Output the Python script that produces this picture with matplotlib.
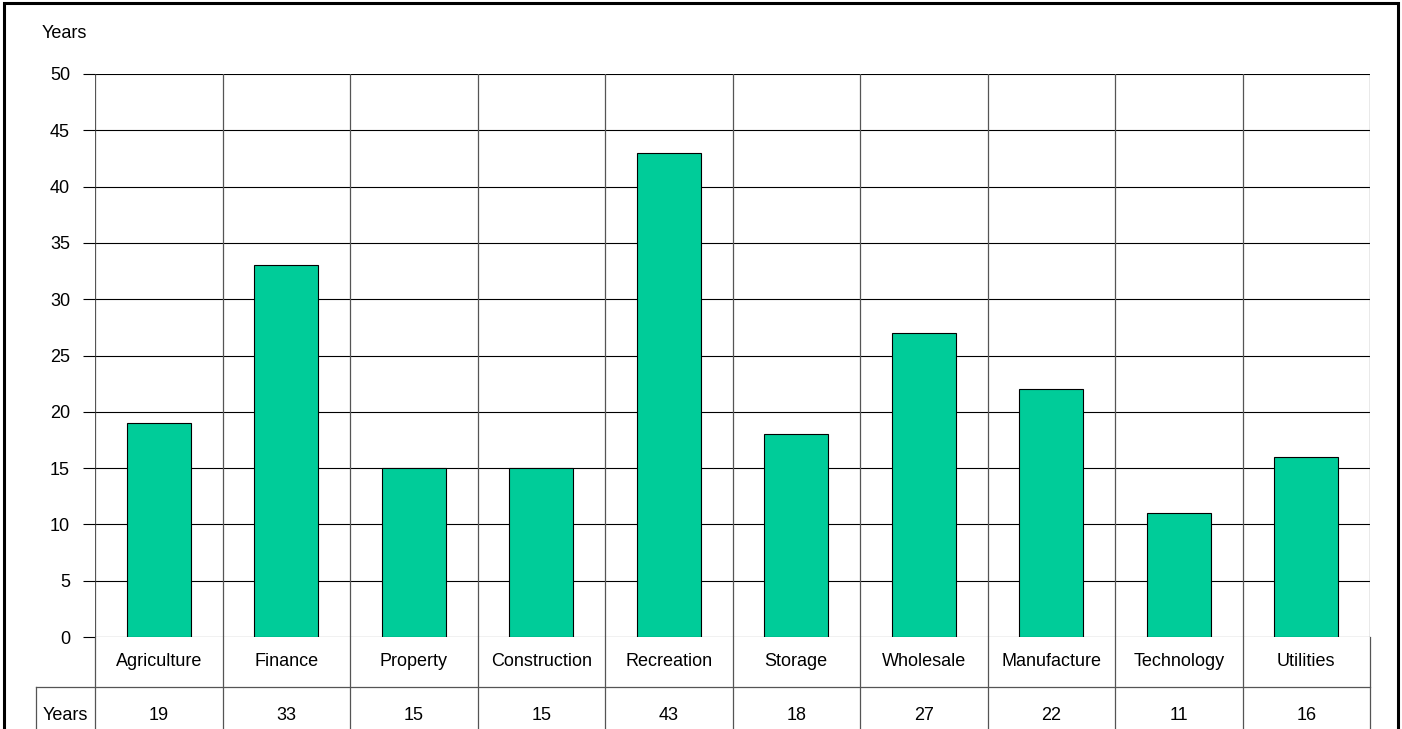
import matplotlib.pyplot as plt
from matplotlib.patches import Rectangle

plt.rcParams['font.family'] = ['Liberation Sans', 'DejaVu Sans']

categories = ["Agriculture", "Finance", "Property", "Construction", "Recreation",
              "Storage", "Wholesale", "Manufacture", "Technology", "Utilities"]
years = [19, 33, 15, 15, 43, 18, 27, 22, 11, 16]
y_ticks = [0, 5, 10, 15, 20, 25, 30, 35, 40, 45, 50]

FS = 13
W, H = 1402, 729
fig = plt.figure(figsize=(W / 100, H / 100), dpi=100)
left, right, top, bottom = 95, 1370, 74, 637
ax = fig.add_axes([left / W, 1 - bottom / H, (right - left) / W, (bottom - top) / H])

n = len(categories)
xs = list(range(n))
ax.bar(xs, years, width=0.5, color="#00CC99", edgecolor="black", linewidth=0.8, zorder=3)
ax.set_xlim(-0.5, n - 0.5)
ax.set_ylim(0, 50)
ax.set_yticks(y_ticks)
ax.tick_params(axis="y", length=9, width=0.8, labelsize=FS, pad=9)
ax.set_xticks([])
for yv in y_ticks:
    ax.axhline(yv, color="black", linewidth=0.8, zorder=1)
for i in range(n + 1):
    ax.axvline(i - 0.5, color="#555555", linewidth=0.9, zorder=1)
for s in ax.spines.values():
    s.set_visible(False)

# data table under the axes
unit = 50 / (bottom - top)          # data units per pixel
row_lbl_x = -0.5 - (left - 36) / ((right - left) / n)
for i in range(n + 1):
    ax.plot([i - 0.5, i - 0.5], [0, -20], color="#555555", linewidth=0.9, clip_on=False)
ax.plot([row_lbl_x, n - 0.5], [-50 * unit, -50 * unit], color="#555555",
        linewidth=0.9, clip_on=False)
ax.plot([row_lbl_x, row_lbl_x], [-50 * unit, -20], color="#555555",
        linewidth=0.9, clip_on=False)
for i, (c, v) in enumerate(zip(categories, years)):
    ax.text(i, -24 * unit, c, ha="center", va="center", fontsize=FS, clip_on=False)
    ax.text(i, -79 * unit, str(v), ha="center", va="center", fontsize=FS, clip_on=False)
ax.text((row_lbl_x - 0.5) / 2, -79 * unit, "Years", ha="center", va="center", fontsize=FS)

fig.text(42 / W, 1 - 33 / H, "Years", ha="left", va="center", fontsize=FS)

fig.patches.append(Rectangle((4 / W, -0.1), (1398 - 4) / W, 1.1 - 3 / H,
                             transform=fig.transFigure, fill=False,
                             edgecolor="black", linewidth=2.2))

fig.savefig("out.png", dpi=100)
